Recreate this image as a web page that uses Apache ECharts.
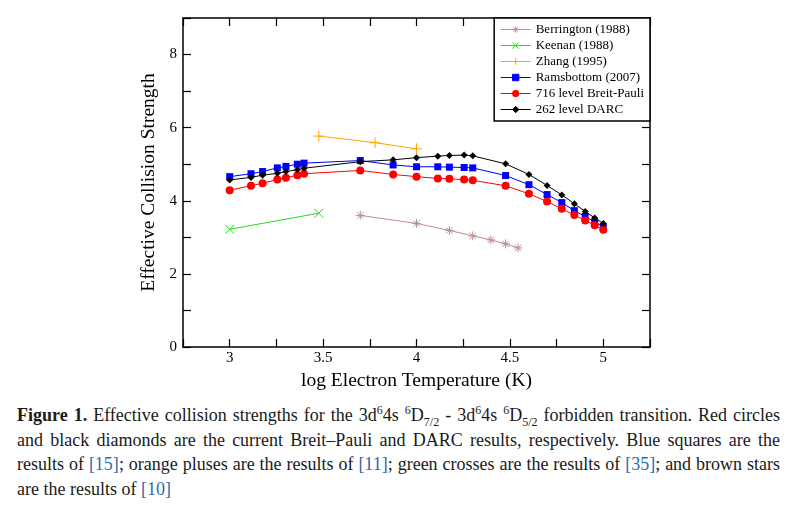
<!DOCTYPE html>
<html>
<head>
<meta charset="utf-8">
<script src="https://cdn.jsdelivr.net/npm/echarts@6/dist/echarts.min.js"></script>
<style>
  html, body { margin:0; padding:0; background:#fff; }
  #chart { position:absolute; left:0; top:0; width:807px; height:400px; }
  #caption { position:absolute; left:17px; top:403px; width:763px; font-family:"Liberation Serif", serif; font-size:18px; color:#1a1a1a; }
  #caption .ln { height:24.5px; line-height:24.5px; white-space:nowrap; text-align:justify; text-align-last:justify; }
  #caption .ln.last { text-align-last:left; }
  #caption sup, #caption sub { font-size:12px; line-height:0; }
  #caption .ref { color:#2f6aa8; }
</style>
</head>
<body>
<div id="chart"></div>
<div id="caption">
  <div class="ln"><b>Figure 1.</b> Effective collision strengths for the 3d<sup>6</sup>4s <sup>6</sup>D<sub>7/2</sub> - 3d<sup>6</sup>4s <sup>6</sup>D<sub>5/2</sub> forbidden transition. Red circles</div>
  <div class="ln">and black diamonds are the current Breit–Pauli and DARC results, respectively. Blue squares are the</div>
  <div class="ln">results of <span class="ref">[15]</span>; orange pluses are the results of <span class="ref">[11]</span>; green crosses are the results of <span class="ref">[35]</span>; and brown stars</div>
  <div class="ln last">are the results of <span class="ref">[10]</span></div>
</div>
<script>
// ---- data ----
const berringtonX = [3.699, 4.0, 4.176, 4.301, 4.398, 4.477, 4.544];
const berringtonY = [3.60, 3.38, 3.19, 3.04, 2.93, 2.82, 2.71];

const keenanX = [3.0, 3.477];
const keenanY = [3.22, 3.66];

const zhangX = [3.477, 3.778, 4.0];
const zhangY = [5.77, 5.59, 5.42];

const tempX = [3.0, 3.114, 3.176, 3.255, 3.301, 3.362, 3.398, 3.699, 3.875, 4.0, 4.114, 4.176, 4.255, 4.301, 4.477, 4.602, 4.699, 4.778, 4.845, 4.903, 4.954, 5.0];
const ramsbottomY = [4.66, 4.74, 4.80, 4.90, 4.94, 5.00, 5.03, 5.10, 4.98, 4.93, 4.93, 4.92, 4.91, 4.90, 4.69, 4.44, 4.17, 3.95, 3.73, 3.57, 3.42, 3.29];
const breitPauliY = [4.29, 4.41, 4.48, 4.58, 4.63, 4.70, 4.74, 4.83, 4.72, 4.66, 4.61, 4.60, 4.58, 4.56, 4.41, 4.19, 3.98, 3.78, 3.61, 3.46, 3.33, 3.21];
const darcY = [4.57, 4.64, 4.70, 4.75, 4.80, 4.85, 4.89, 5.07, 5.12, 5.18, 5.22, 5.24, 5.25, 5.23, 5.01, 4.72, 4.42, 4.16, 3.92, 3.71, 3.53, 3.38];

const seriesNames = ['Berrington (1988)', 'Keenan (1988)', 'Zhang (1995)', 'Ramsbottom (2007)', '716 level Breit-Pauli', '262 level DARC'];
const xTickLabels = ['3', '3.5', '4', '4.5', '5'];
const yTickLabels = ['0', '2', '4', '6', '8'];

function pairs(xs, ys) { return xs.map((x, i) => [x, ys[i]]); }

const FONT = '"Liberation Serif", "Times New Roman", serif';
const chart = echarts.init(document.getElementById('chart'), null, { renderer: 'canvas' });

const starPath = 'path://M5,0 L5,10 M0,5 L10,5 M1.5,1.5 L8.5,8.5 M1.5,8.5 L8.5,1.5';
const crossPath = 'path://M0,0 L10,10 M0,10 L10,0';
const plusPath = 'path://M5,0 L5,10 M0,5 L10,5';
const diamondPath = 'path://M5,0 L10,5 L5,10 L0,5 Z';

function strokeSeries(name, xs, ys, color, symbol, size) {
  return {
    name, type: 'line', data: pairs(xs, ys), symbol, symbolSize: size,
    lineStyle: { color, width: 1 },
    itemStyle: { color: 'rgba(0,0,0,0)', borderColor: color, borderWidth: 1 },
    emphasis: { disabled: true }, animation: false, z: 2
  };
}
function fillSeries(name, xs, ys, color, symbol, size, z) {
  return {
    name, type: 'line', data: pairs(xs, ys), symbol, symbolSize: size,
    lineStyle: { color, width: 1 },
    itemStyle: { color, borderColor: color, borderWidth: 0 },
    emphasis: { disabled: true }, animation: false, z
  };
}

const axisCommon = {
  axisLine: { show: true, onZero: false, lineStyle: { color: '#000', width: 1.5 } },
  axisTick: { show: true, inside: true, length: 8, lineStyle: { color: '#000', width: 1.2 } },
  minorTick: { show: false },
  splitLine: { show: false }
};

const option = {
  animation: false,
  backgroundColor: '#fff',
  grid: { left: 183, right: 157, top: 18, bottom: 53, containLabel: false },
  xAxis: [
    Object.assign({
      type: 'value', min: 2.75, max: 5.25, interval: 0.25, position: 'bottom',
      name: 'log Electron Temperature (K)', nameLocation: 'middle', nameGap: 17,
      nameTextStyle: { fontFamily: FONT, fontSize: 19.5, color: '#000' },
      axisLabel: {
        fontFamily: FONT, fontSize: 15, color: '#000', margin: 4,
        formatter: v => { const s = String(+v.toFixed(2)); return xTickLabels.includes(s) ? s : ''; }
      }
    }, axisCommon),
    Object.assign({
      type: 'value', min: 2.75, max: 5.25, interval: 0.25, position: 'top',
      axisLabel: { show: false }
    }, axisCommon)
  ],
  yAxis: [
    Object.assign({
      type: 'value', min: 0, max: 9, interval: 1, position: 'left',
      name: 'Effective Collision Strength', nameLocation: 'middle', nameGap: 22,
      nameTextStyle: { fontFamily: FONT, fontSize: 19.5, color: '#000' },
      axisLabel: {
        fontFamily: FONT, fontSize: 15, color: '#000', margin: 6,
        formatter: v => { const s = String(v); return yTickLabels.includes(s) ? s : ''; }
      }
    }, axisCommon),
    Object.assign({
      type: 'value', min: 0, max: 9, interval: 1, position: 'right',
      axisLabel: { show: false }
    }, axisCommon)
  ],
  legend: {
    orient: 'vertical', right: 157, top: 18,
    backgroundColor: '#fff', borderColor: '#000', borderWidth: 1.5,
    padding: [5, 6, 5, 6], itemGap: 3, itemWidth: 30, itemHeight: 8,
    lineStyle: { width: 1 },
    itemStyle: { borderWidth: 1 },
    textStyle: { fontFamily: FONT, fontSize: 13, color: '#000' },
    data: seriesNames,
    selectedMode: false
  },
  series: [
    strokeSeries(seriesNames[0], berringtonX, berringtonY, '#bc8f8f', starPath, 9),
    strokeSeries(seriesNames[1], keenanX, keenanY, '#22dd22', crossPath, 9),
    strokeSeries(seriesNames[2], zhangX, zhangY, '#ffa500', plusPath, 11),
    fillSeries(seriesNames[3], tempX, ramsbottomY, '#0000ff', 'rect', 7, 3),
    fillSeries(seriesNames[4], tempX, breitPauliY, '#ff0000', 'circle', 8, 4),
    fillSeries(seriesNames[5], tempX, darcY, '#000000', diamondPath, 7, 5)
  ]
};
chart.setOption(option);
</script>
</body>
</html>
